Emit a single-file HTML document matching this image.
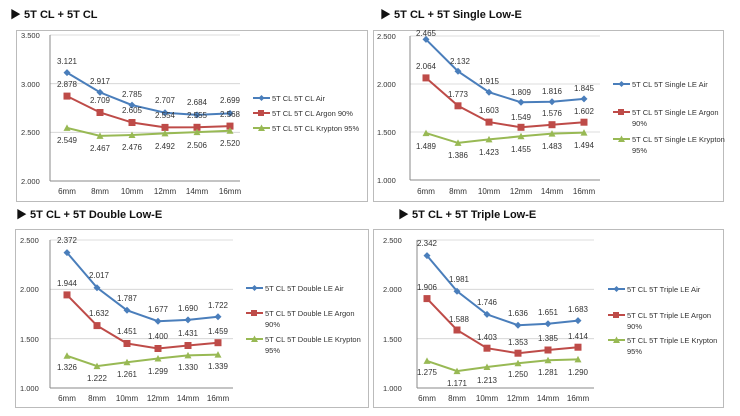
<!DOCTYPE html>
<html><head><meta charset="utf-8"><style>
html,body{margin:0;padding:0;background:#fff;}
svg{display:block;font-family:"Liberation Sans","Noto Sans CJK KR",sans-serif;}
.t{font-size:11px;font-weight:bold;fill:#111}
.ax{font-size:7.5px;fill:#333}
.lb{font-size:8px;fill:#333;text-anchor:middle}
.lg{font-size:7.5px;fill:#333}
.g{stroke:#d0d0d0;stroke-width:0.8}
.b{stroke:#4a7ebb;stroke-width:2;fill:none;marker-start:url(#md);marker-mid:url(#md);marker-end:url(#md)}
.r{stroke:#be4b48;stroke-width:2;fill:none;marker-start:url(#ms);marker-mid:url(#ms);marker-end:url(#ms)}
.gr{stroke:#98b954;stroke-width:2;fill:none;marker-start:url(#mt);marker-mid:url(#mt);marker-end:url(#mt)}
</style></head><body>
<svg width="740" height="416" viewBox="0 0 740 416">
<defs>
<marker id="md" markerUnits="userSpaceOnUse" markerWidth="8" markerHeight="8" refX="4" refY="4"><path d="M4 0.5L7.5 4L4 7.5L0.5 4Z" fill="#4a7ebb"/></marker>
<marker id="ms" markerUnits="userSpaceOnUse" markerWidth="8" markerHeight="8" refX="4" refY="4"><rect x="0.5" y="0.5" width="7" height="7" fill="#be4b48"/></marker>
<marker id="mt" markerUnits="userSpaceOnUse" markerWidth="8" markerHeight="8" refX="4" refY="4"><path d="M4 0.5L7.5 7L0.5 7Z" fill="#98b954"/></marker>
</defs>

<!-- Panel 1 -->
<text class="t" x="10" y="18">▶ 5T CL + 5T CL</text>
<rect x="16.5" y="30.5" width="351" height="171" fill="#fff" stroke="#bbb"/>
<g class="g"><line x1="50" y1="35" x2="240" y2="35"/><line x1="50" y1="83.7" x2="240" y2="83.7"/><line x1="50" y1="132.3" x2="240" y2="132.3"/></g>
<line x1="50" y1="35" x2="50" y2="181" stroke="#888"/><line x1="50" y1="181" x2="240" y2="181" stroke="#888"/>
<g class="ax"><text x="21" y="38">3.500</text><text x="21" y="87">3.000</text><text x="21" y="135">2.500</text><text x="21" y="184">2.000</text></g>
<g class="lb"><text x="67" y="194">6mm</text><text x="100" y="194">8mm</text><text x="132" y="194">10mm</text><text x="165" y="194">12mm</text><text x="197" y="194">14mm</text><text x="230" y="194">16mm</text></g>
<polyline class="b" points="67,72.6 100,92.4 132,105.1 165,112.7 197,114.9 230,113.4"/>
<polyline class="r" points="67,96.1 100,112.5 132,122.5 165,127.4 197,127.3 230,126.1"/>
<polyline class="gr" points="67,127.9 100,135.9 132,135 165,133.4 197,132.1 230,130.7"/>
<g class="lb"><text x="67" y="64">3.121</text><text x="100" y="84">2.917</text><text x="132" y="97">2.785</text><text x="165" y="103">2.707</text><text x="197" y="105">2.684</text><text x="230" y="103">2.699</text>
<text x="67" y="87">2.878</text><text x="100" y="103">2.709</text><text x="132" y="113">2.605</text><text x="165" y="118">2.554</text><text x="197" y="118">2.555</text><text x="230" y="117">2.568</text>
<text x="67" y="143">2.549</text><text x="100" y="151">2.467</text><text x="132" y="150">2.476</text><text x="165" y="149">2.492</text><text x="197" y="148">2.506</text><text x="230" y="146">2.520</text></g>
<line x1="253" y1="98" x2="270" y2="98" stroke="#4a7ebb" stroke-width="2"/><path d="M261.5 95L264.5 98L261.5 101L258.5 98Z" fill="#4a7ebb"/>
<line x1="253" y1="113" x2="270" y2="113" stroke="#be4b48" stroke-width="2"/><rect x="258" y="110" width="6" height="6" fill="#be4b48"/>
<line x1="253" y1="128" x2="270" y2="128" stroke="#98b954" stroke-width="2"/><path d="M261.5 124.5L265 131L258 131Z" fill="#98b954"/>
<g class="lg"><text x="272" y="101">5T CL 5T CL Air</text><text x="272" y="116">5T CL 5T CL Argon 90%</text><text x="272" y="131">5T CL 5T CL Krypton 95%</text></g>

<!-- Panel 2 -->
<text class="t" x="380" y="18">▶ 5T CL + 5T Single Low-E</text>
<rect x="373.5" y="30.5" width="350" height="171" fill="#fff" stroke="#bbb"/>
<g class="g"><line x1="410" y1="36" x2="600" y2="36"/><line x1="410" y1="84" x2="600" y2="84"/><line x1="410" y1="132" x2="600" y2="132"/></g>
<line x1="410" y1="36" x2="410" y2="180" stroke="#888"/><line x1="410" y1="180" x2="600" y2="180" stroke="#888"/>
<g class="ax"><text x="377" y="39">2.500</text><text x="377" y="87">2.000</text><text x="377" y="135">1.500</text><text x="377" y="183">1.000</text></g>
<g class="lb"><text x="426" y="194">6mm</text><text x="458" y="194">8mm</text><text x="489" y="194">10mm</text><text x="521" y="194">12mm</text><text x="552" y="194">14mm</text><text x="584" y="194">16mm</text></g>
<polyline class="b" points="426,39.4 458,71.3 489,92.2 521,102.3 552,101.7 584,98.9"/>
<polyline class="r" points="426,77.9 458,105.8 489,122.1 521,127.3 552,124.7 584,122.2"/>
<polyline class="gr" points="426,133.1 458,142.9 489,139.4 521,136.3 552,133.6 584,132.6"/>
<g class="lb"><text x="426" y="36">2.465</text><text x="460" y="64">2.132</text><text x="489" y="84">1.915</text><text x="521" y="95">1.809</text><text x="552" y="94">1.816</text><text x="584" y="91">1.845</text>
<text x="426" y="69">2.064</text><text x="458" y="97">1.773</text><text x="489" y="113">1.603</text><text x="521" y="120">1.549</text><text x="552" y="116">1.576</text><text x="584" y="114">1.602</text>
<text x="426" y="149">1.489</text><text x="458" y="158">1.386</text><text x="489" y="155">1.423</text><text x="521" y="152">1.455</text><text x="552" y="149">1.483</text><text x="584" y="148">1.494</text></g>
<line x1="613" y1="84" x2="630" y2="84" stroke="#4a7ebb" stroke-width="2"/><path d="M621.5 81L624.5 84L621.5 87L618.5 84Z" fill="#4a7ebb"/>
<line x1="613" y1="112" x2="630" y2="112" stroke="#be4b48" stroke-width="2"/><rect x="618" y="109" width="6" height="6" fill="#be4b48"/>
<line x1="613" y1="139" x2="630" y2="139" stroke="#98b954" stroke-width="2"/><path d="M621.5 135.5L625 142L618 142Z" fill="#98b954"/>
<g class="lg"><text x="632" y="87">5T CL 5T Single LE Air</text><text x="632" y="115">5T CL 5T Single LE Argon</text><text x="632" y="126">90%</text><text x="632" y="142">5T CL 5T Single LE Krypton</text><text x="632" y="153">95%</text></g>

<!-- Panel 3 -->
<text class="t" x="16" y="218">▶ 5T CL + 5T Double Low-E</text>
<rect x="15.5" y="229.5" width="353" height="178" fill="#fff" stroke="#bbb"/>
<g class="g"><line x1="50" y1="240" x2="233" y2="240"/><line x1="50" y1="289.3" x2="233" y2="289.3"/><line x1="50" y1="338.7" x2="233" y2="338.7"/></g>
<line x1="50" y1="240" x2="50" y2="388" stroke="#888"/><line x1="50" y1="388" x2="233" y2="388" stroke="#888"/>
<g class="ax"><text x="20" y="243">2.500</text><text x="20" y="292">2.000</text><text x="20" y="342">1.500</text><text x="20" y="391">1.000</text></g>
<g class="lb"><text x="67" y="401">6mm</text><text x="97" y="401">8mm</text><text x="127" y="401">10mm</text><text x="158" y="401">12mm</text><text x="188" y="401">14mm</text><text x="218" y="401">16mm</text></g>
<polyline class="b" points="67,252.6 97,287.7 127,310.3 158,321.2 188,319.9 218,316.8"/>
<polyline class="r" points="67,294.9 97,325.6 127,343.5 158,348.5 188,345.5 218,342.7"/>
<polyline class="gr" points="67,355.8 97,366.1 127,362.2 158,358.5 188,355.4 218,354.6"/>
<g class="lb"><text x="67" y="243">2.372</text><text x="99" y="278">2.017</text><text x="127" y="301">1.787</text><text x="158" y="312">1.677</text><text x="188" y="311">1.690</text><text x="218" y="308">1.722</text>
<text x="67" y="286">1.944</text><text x="99" y="316">1.632</text><text x="127" y="334">1.451</text><text x="158" y="339">1.400</text><text x="188" y="336">1.431</text><text x="218" y="334">1.459</text>
<text x="67" y="370">1.326</text><text x="97" y="381">1.222</text><text x="127" y="377">1.261</text><text x="158" y="374">1.299</text><text x="188" y="370">1.330</text><text x="218" y="369">1.339</text></g>
<line x1="246" y1="288" x2="263" y2="288" stroke="#4a7ebb" stroke-width="2"/><path d="M254.5 285L257.5 288L254.5 291L251.5 288Z" fill="#4a7ebb"/>
<line x1="246" y1="313" x2="263" y2="313" stroke="#be4b48" stroke-width="2"/><rect x="251" y="310" width="6" height="6" fill="#be4b48"/>
<line x1="246" y1="339" x2="263" y2="339" stroke="#98b954" stroke-width="2"/><path d="M254.5 335.5L258 342L251 342Z" fill="#98b954"/>
<g class="lg"><text x="265" y="291">5T CL 5T Double LE Air</text><text x="265" y="316">5T CL 5T Double LE Argon</text><text x="265" y="327">90%</text><text x="265" y="342">5T CL 5T Double LE Krypton</text><text x="265" y="353">95%</text></g>

<!-- Panel 4 -->
<text class="t" x="398" y="218">▶ 5T CL + 5T Triple Low-E</text>
<rect x="373.5" y="229.5" width="350" height="178" fill="#fff" stroke="#bbb"/>
<g class="g"><line x1="417" y1="240" x2="594" y2="240"/><line x1="417" y1="289.3" x2="594" y2="289.3"/><line x1="417" y1="338.7" x2="594" y2="338.7"/></g>
<line x1="417" y1="240" x2="417" y2="388" stroke="#888"/><line x1="417" y1="388" x2="594" y2="388" stroke="#888"/>
<g class="ax"><text x="383" y="243">2.500</text><text x="383" y="292">2.000</text><text x="383" y="342">1.500</text><text x="383" y="391">1.000</text></g>
<g class="lb"><text x="427" y="401">6mm</text><text x="457" y="401">8mm</text><text x="487" y="401">10mm</text><text x="518" y="401">12mm</text><text x="548" y="401">14mm</text><text x="578" y="401">16mm</text></g>
<polyline class="b" points="427,255.6 457,291.2 487,314.4 518,325.2 548,323.8 578,320.6"/>
<polyline class="r" points="427,298.6 457,330 487,348.2 518,353.2 548,350 578,347.2"/>
<polyline class="gr" points="427,360.9 457,371.1 487,367 518,363.3 548,360.3 578,359.4"/>
<g class="lb"><text x="427" y="246">2.342</text><text x="459" y="282">1.981</text><text x="487" y="305">1.746</text><text x="518" y="316">1.636</text><text x="548" y="315">1.651</text><text x="578" y="312">1.683</text>
<text x="427" y="290">1.906</text><text x="459" y="322">1.588</text><text x="487" y="340">1.403</text><text x="518" y="345">1.353</text><text x="548" y="341">1.385</text><text x="578" y="339">1.414</text>
<text x="427" y="375">1.275</text><text x="457" y="386">1.171</text><text x="487" y="383">1.213</text><text x="518" y="377">1.250</text><text x="548" y="375">1.281</text><text x="578" y="375">1.290</text></g>
<line x1="608" y1="289" x2="625" y2="289" stroke="#4a7ebb" stroke-width="2"/><path d="M616.5 286L619.5 289L616.5 292L613.5 289Z" fill="#4a7ebb"/>
<line x1="608" y1="315" x2="625" y2="315" stroke="#be4b48" stroke-width="2"/><rect x="613" y="312" width="6" height="6" fill="#be4b48"/>
<line x1="608" y1="340" x2="625" y2="340" stroke="#98b954" stroke-width="2"/><path d="M616.5 336.5L620 343L613 343Z" fill="#98b954"/>
<g class="lg"><text x="627" y="292">5T CL 5T Triple LE Air</text><text x="627" y="318">5T CL 5T Triple LE Argon</text><text x="627" y="329">90%</text><text x="627" y="343">5T CL 5T Triple LE Krypton</text><text x="627" y="354">95%</text></g>
</svg>
</body></html>
